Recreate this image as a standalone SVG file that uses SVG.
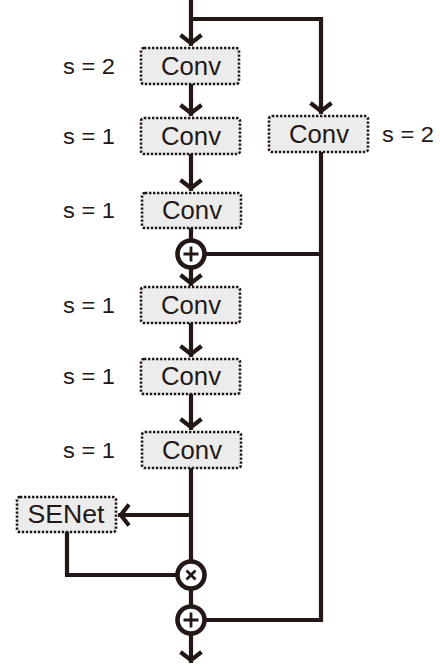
<svg xmlns="http://www.w3.org/2000/svg" width="440" height="668" viewBox="0 0 440 668">
  <style>
    .box { fill: #ececec; stroke: #231815; stroke-width: 2.6; stroke-dasharray: 2.4 1.6; }
    .lbl { font-family: "Liberation Sans", Arial, sans-serif; font-size: 25px; fill: #231815; text-anchor: middle; }
    .s { font-family: "Liberation Sans", Arial, sans-serif; font-size: 22px; fill: #231815; }
    .ln { fill: none; stroke: #231815; stroke-width: 4.2; stroke-linejoin: miter; }
    .op { fill: #ffffff; stroke: #231815; stroke-width: 4.6; }
    .sym { fill: none; stroke: #231815; stroke-width: 2.8; stroke-linecap: butt; }
  </style>
  <defs>
    <marker id="arr" markerUnits="userSpaceOnUse" viewBox="-14 -14 16 28" markerWidth="16" markerHeight="28" refX="0" refY="0" orient="auto" overflow="visible">
      <path d="M -11 -10.5 L -2.8 0 L -11 10.5" fill="none" stroke="#231815" stroke-width="4.2" stroke-linejoin="miter"/>
    </marker>
  </defs>

  <!-- connectors -->
  <g id="connectors">
    <!-- input and shortcut branch -->
    <path class="ln" d="M 191 0 L 191 46" marker-end="url(#arr)"/>
    <path class="ln" d="M 191 19 L 321 19 L 321 114" marker-end="url(#arr)"/>
    <!-- main path arrows -->
    <path class="ln" d="M 191 84 L 191 116" marker-end="url(#arr)"/>
    <path class="ln" d="M 191 154 L 191 191" marker-end="url(#arr)"/>
    <path class="ln" d="M 191 228 L 191 240"/>
    <path class="ln" d="M 191 268 L 191 286" marker-end="url(#arr)"/>
    <path class="ln" d="M 191 323 L 191 357" marker-end="url(#arr)"/>
    <path class="ln" d="M 191 394 L 191 430" marker-end="url(#arr)"/>
    <path class="ln" d="M 191 468 L 191 561"/>
    <!-- SE branch -->
    <path class="ln" d="M 191 515 L 118 515" marker-end="url(#arr)"/>
    <path class="ln" d="M 67 532 L 67 575 L 177 575"/>
    <path class="ln" d="M 191 589 L 191 606"/>
    <!-- shortcut into the adds -->
    <path class="ln" d="M 321 152 L 321 620 L 206 620"/>
    <path class="ln" d="M 206 254 L 321 254"/>
    <!-- output -->
    <path class="ln" d="M 191 634 L 191 663" marker-end="url(#arr)"/>
  </g>

  <g id="conv1">
    <rect class="box" x="141" y="48" width="98" height="36" rx="3"/>
    <text class="lbl" x="191" y="75" textLength="60" lengthAdjust="spacingAndGlyphs">Conv</text>
    <text class="s" x="63" y="74" textLength="52" lengthAdjust="spacingAndGlyphs">s = 2</text>
  </g>
  <g id="conv2">
    <rect class="box" x="141" y="118" width="99" height="36" rx="3"/>
    <text class="lbl" x="191" y="145" textLength="60" lengthAdjust="spacingAndGlyphs">Conv</text>
    <text class="s" x="63" y="144" textLength="52" lengthAdjust="spacingAndGlyphs">s = 1</text>
  </g>
  <g id="conv-shortcut">
    <rect class="box" x="269" y="116" width="99" height="36" rx="3"/>
    <text class="lbl" x="319" y="143" textLength="60" lengthAdjust="spacingAndGlyphs">Conv</text>
    <text class="s" x="382" y="142" textLength="52" lengthAdjust="spacingAndGlyphs">s = 2</text>
  </g>
  <g id="conv3">
    <rect class="box" x="142" y="193" width="99" height="35" rx="3"/>
    <text class="lbl" x="192" y="219" textLength="60" lengthAdjust="spacingAndGlyphs">Conv</text>
    <text class="s" x="63" y="218" textLength="52" lengthAdjust="spacingAndGlyphs">s = 1</text>
  </g>
  <g id="add1">
    <circle class="op" cx="191" cy="254" r="13.5"/>
    <path class="sym" d="M 183.5 254 H 198.5 M 191 246.5 V 261.5"/>
  </g>
  <g id="conv4">
    <rect class="box" x="141" y="287" width="99" height="36" rx="3"/>
    <text class="lbl" x="191" y="314" textLength="60" lengthAdjust="spacingAndGlyphs">Conv</text>
    <text class="s" x="63" y="313" textLength="52" lengthAdjust="spacingAndGlyphs">s = 1</text>
  </g>
  <g id="conv5">
    <rect class="box" x="141" y="359" width="99" height="35" rx="3"/>
    <text class="lbl" x="191" y="385" textLength="60" lengthAdjust="spacingAndGlyphs">Conv</text>
    <text class="s" x="63" y="384" textLength="52" lengthAdjust="spacingAndGlyphs">s = 1</text>
  </g>
  <g id="conv6">
    <rect class="box" x="142" y="432" width="99" height="36" rx="3"/>
    <text class="lbl" x="192" y="459" textLength="60" lengthAdjust="spacingAndGlyphs">Conv</text>
    <text class="s" x="63" y="458" textLength="52" lengthAdjust="spacingAndGlyphs">s = 1</text>
  </g>
  <g id="senet">
    <rect class="box" x="17" y="497" width="99" height="35" rx="3"/>
    <text class="lbl" x="66" y="523" textLength="77" lengthAdjust="spacingAndGlyphs">SENet</text>
  </g>
  <g id="mul">
    <circle class="op" cx="191" cy="575" r="13.5"/>
    <path class="sym" d="M 186.5 570.5 L 195.5 579.5 M 195.5 570.5 L 186.5 579.5"/>
  </g>
  <g id="add2">
    <circle class="op" cx="191" cy="620" r="13.5"/>
    <path class="sym" d="M 183.5 620 H 198.5 M 191 612.5 V 627.5"/>
  </g>
</svg>
